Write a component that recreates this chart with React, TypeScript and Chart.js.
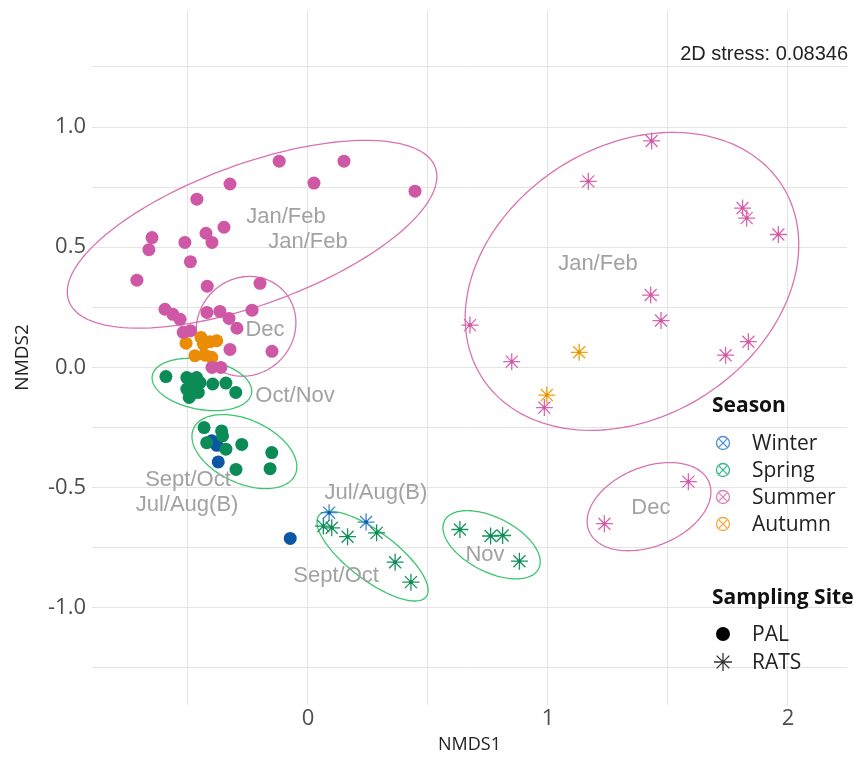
import React, { useEffect, useRef } from 'react';
import { Chart, registerables } from 'chart.js';

Chart.register(...registerables);

// ---------- data ----------
const palSummerX = [-0.713, -0.663, -0.65, -0.513, -0.49, -0.463, -0.425, -0.4, -0.35, -0.325, -0.12, 0.025, 0.15, 0.446, -0.42, -0.2, -0.596, -0.563, -0.533, -0.421, -0.367, -0.329, -0.296, -0.233, -0.52, -0.49, -0.325, -0.15, -0.4, -0.363];
const palSummerY = [0.363, 0.49, 0.54, 0.52, 0.44, 0.7, 0.558, 0.52, 0.583, 0.763, 0.858, 0.767, 0.858, 0.733, 0.338, 0.35, 0.242, 0.221, 0.2, 0.229, 0.233, 0.204, 0.163, 0.238, 0.146, 0.153, 0.075, 0.067, 0.0, 0.0];
const palAutumnX = [-0.446, -0.408, -0.38, -0.508, -0.471, -0.429, -0.401, -0.436];
const palAutumnY = [0.125, 0.107, 0.111, 0.101, 0.049, 0.051, 0.042, 0.097];
const palSpringX = [-0.592, -0.505, -0.485, -0.464, -0.45, -0.505, -0.485, -0.457, -0.478, -0.397, -0.342, -0.301, -0.495, -0.433, -0.422, -0.36, -0.356, -0.342, -0.276, -0.151, -0.158, -0.3];
const palSpringY = [-0.038, -0.042, -0.049, -0.042, -0.063, -0.09, -0.111, -0.104, -0.076, -0.069, -0.065, -0.104, -0.125, -0.25, -0.313, -0.264, -0.285, -0.34, -0.32, -0.354, -0.421, -0.424];
const palWinterX = [-0.074, -0.374, -0.401, -0.38];
const palWinterY = [-0.711, -0.393, -0.305, -0.324];

const ratsSummerX = [1.432, 1.168, 1.811, 1.828, 1.96, 1.428, 1.471, 0.675, 0.849, 1.74, 1.835, 0.985, 1.585, 1.235];
const ratsSummerY = [0.942, 0.774, 0.663, 0.621, 0.553, 0.301, 0.195, 0.176, 0.024, 0.051, 0.107, -0.167, -0.475, -0.65];
const ratsAutumnX = [1.13, 0.995];
const ratsAutumnY = [0.063, -0.115];
const ratsSpringX = [0.064, 0.099, 0.165, 0.286, 0.363, 0.429, 0.633, 0.761, 0.811, 0.881];
const ratsSpringY = [-0.66, -0.667, -0.704, -0.688, -0.81, -0.893, -0.674, -0.701, -0.699, -0.806];
const ratsWinterX = [0.088, 0.242];
const ratsWinterY = [-0.604, -0.643];

// ellipses (data units)
const ellipseCx = [-0.233, -0.258, -0.442, -0.265, 0.269, 0.765, 1.35, 1.421];
const ellipseCy = [0.554, 0.171, -0.071, -0.35, -0.785, -0.7375, 0.358, -0.579];
const ellipseA = [0.8125, 0.215, 0.21, 0.2325, 0.28, 0.22, 0.742, 0.27];
const ellipseB = [0.292, 0.2, 0.104, 0.132, 0.1, 0.113, 0.5625, 0.165];
const ellipseAngle = [20, 45, -10, -24.5, -37, -27, 32.5, 22];
const ellipseSeason = ['Summer', 'Summer', 'Spring', 'Spring', 'Spring', 'Spring', 'Summer', 'Summer'];

// cluster labels
const labelText = ['Jan/Feb', 'Jan/Feb', 'Dec', 'Oct/Nov', 'Sept/Oct', 'Jul/Aug(B)', 'Jul/Aug(B)', 'Sept/Oct', 'Nov', 'Jan/Feb', 'Dec'];
const labelX = [-0.092, 0.0, -0.179, -0.054, -0.5, -0.504, 0.283, 0.117, 0.7375, 1.208, 1.429];
const labelY = [0.625, 0.521, 0.154, -0.117, -0.467, -0.571, -0.521, -0.867, -0.779, 0.429, -0.583];

const seasons = ['Winter', 'Spring', 'Summer', 'Autumn'];
const sites = ['PAL', 'RATS'];
const stressText = '2D stress: 0.08346';

// ---------- styles ----------
const palColors: Record<string, string> = { Winter: '#0b57a6', Spring: '#0b8b55', Summer: '#cf58a6', Autumn: '#eb8c06' };
const ratsColors: Record<string, string> = { Winter: '#3f86d0', Spring: '#16925e', Summer: '#d865ad', Autumn: '#f0a20a' };
const legendColors: Record<string, string> = { Winter: '#4a90d6', Spring: '#35b889', Summer: '#e07cbc', Autumn: '#f5a83a' };
const ellipseColors: Record<string, string> = { Spring: '#3cc46e', Summer: '#d873b2' };
const gridColor = '#e4e4e4';

const pts = (xs: number[], ys: number[]) => xs.map((x, i) => ({ x, y: ys[i] }));

const overlayPlugin = {
  id: 'overlay',
  beforeDatasetsDraw(chart: any) {
    const { ctx, scales } = chart;
    const sx = scales.x, sy = scales.y;
    ctx.save();
    for (let k = 0; k < ellipseCx.length; k++) {
      const phi = (ellipseAngle[k] * Math.PI) / 180;
      ctx.beginPath();
      const n = 160;
      for (let t = 0; t <= n; t++) {
        const th = (t / n) * Math.PI * 2;
        const ex = ellipseA[k] * Math.cos(th);
        const ey = ellipseB[k] * Math.sin(th);
        const dx = ellipseCx[k] + ex * Math.cos(phi) - ey * Math.sin(phi);
        const dy = ellipseCy[k] + ex * Math.sin(phi) + ey * Math.cos(phi);
        const px = sx.getPixelForValue(dx);
        const py = sy.getPixelForValue(dy);
        if (t === 0) ctx.moveTo(px, py);
        else ctx.lineTo(px, py);
      }
      ctx.closePath();
      ctx.strokeStyle = ellipseColors[ellipseSeason[k]];
      ctx.lineWidth = 1.3;
      ctx.stroke();
    }
    ctx.restore();
  },
  afterDatasetsDraw(chart: any) {
    const { ctx, scales } = chart;
    const sx = scales.x, sy = scales.y;
    ctx.save();
    ctx.font = '22px "Liberation Sans", Arial, sans-serif';
    ctx.fillStyle = '#a2a2a2';
    ctx.textAlign = 'center';
    ctx.textBaseline = 'middle';
    for (let k = 0; k < labelText.length; k++) {
      ctx.fillText(labelText[k], sx.getPixelForValue(labelX[k]), sy.getPixelForValue(labelY[k]));
    }

    // stress text
    ctx.font = '20px "Liberation Sans", Arial, sans-serif';
    ctx.fillStyle = '#222';
    ctx.textAlign = 'right';
    ctx.fillText(stressText, 848, 54);

    // legend
    const lx = 712;
    ctx.textAlign = 'left';
    ctx.fillStyle = '#111';
    ctx.font = 'bold 21px "Open Sans", sans-serif';
    ctx.fillText('Season', lx, 406);
    const rows = [443, 470, 497, 524];
    ctx.font = '21px "Open Sans", sans-serif';
    seasons.forEach((s, i) => {
      const cx = 723, cy = rows[i], r = 6.5;
      ctx.strokeStyle = legendColors[s];
      ctx.lineWidth = 1.3;
      ctx.beginPath();
      ctx.arc(cx, cy, r, 0, Math.PI * 2);
      ctx.stroke();
      const d = r * 0.707;
      ctx.beginPath();
      ctx.moveTo(cx - d, cy - d); ctx.lineTo(cx + d, cy + d);
      ctx.moveTo(cx + d, cy - d); ctx.lineTo(cx - d, cy + d);
      ctx.stroke();
      ctx.fillStyle = '#222';
      ctx.fillText(s, 752, cy + 1);
    });
    ctx.fillStyle = '#111';
    ctx.font = 'bold 21px "Open Sans", sans-serif';
    ctx.fillText('Sampling Site', lx, 598);
    ctx.font = '21px "Open Sans", sans-serif';
    // PAL
    ctx.fillStyle = '#000';
    ctx.beginPath();
    ctx.arc(723, 634, 7, 0, Math.PI * 2);
    ctx.fill();
    ctx.fillStyle = '#222';
    ctx.fillText(sites[0], 752, 635);
    // RATS star
    ctx.strokeStyle = '#333';
    ctx.lineWidth = 1.3;
    const sc = 723, sr = 662, rr = 9;
    ctx.beginPath();
    for (let a = 0; a < 4; a++) {
      const ang = (a * Math.PI) / 4;
      ctx.moveTo(sc - rr * Math.cos(ang), sr - rr * Math.sin(ang));
      ctx.lineTo(sc + rr * Math.cos(ang), sr + rr * Math.sin(ang));
    }
    ctx.stroke();
    ctx.fillText(sites[1], 752, 663);
    ctx.restore();
  },
};

const palDs = (s: string, xs: number[], ys: number[]) => ({
  label: 'PAL ' + s,
  data: pts(xs, ys),
  pointStyle: 'circle',
  pointRadius: 6.5,
  pointBackgroundColor: palColors[s],
  pointBorderWidth: 0,
  pointBorderColor: palColors[s],
});
const ratsDs = (s: string, xs: number[], ys: number[]) => ({
  label: 'RATS ' + s,
  data: pts(xs, ys),
  pointStyle: 'star',
  pointRadius: 8.5,
  pointBackgroundColor: ratsColors[s],
  pointBorderWidth: 1.3,
  pointBorderColor: ratsColors[s],
});
const dotDs = (s: string, xs: number[], ys: number[]) => ({
  label: 'RATS dot ' + s,
  data: pts(xs, ys),
  pointStyle: 'circle',
  pointRadius: 1.8,
  pointBackgroundColor: palColors[s],
  pointBorderWidth: 0,
});

export default function App() {
  const ref = useRef<HTMLCanvasElement>(null);
  useEffect(() => {
    if (!ref.current) return;
    const chart = new Chart(ref.current, {
      type: 'scatter',
      data: {
        datasets: [
          palDs('Spring', palSpringX, palSpringY),
          palDs('Summer', palSummerX, palSummerY),
          palDs('Autumn', palAutumnX, palAutumnY),
          palDs('Winter', palWinterX, palWinterY),
          dotDs('Summer', ratsSummerX, ratsSummerY),
          dotDs('Spring', ratsSpringX, ratsSpringY),
          dotDs('Autumn', ratsAutumnX, ratsAutumnY),
          dotDs('Winter', ratsWinterX, ratsWinterY),
          ratsDs('Summer', ratsSummerX, ratsSummerY),
          ratsDs('Spring', ratsSpringX, ratsSpringY),
          ratsDs('Autumn', ratsAutumnX, ratsAutumnY),
          ratsDs('Winter', ratsWinterX, ratsWinterY),
        ] as any,
      },
      options: {
        animation: false,
        responsive: true,
        maintainAspectRatio: false,
        layout: { padding: { left: 7, right: 17, top: 0, bottom: 4 } },
        plugins: { legend: { display: false }, tooltip: { enabled: false } },
        scales: {
          x: {
            type: 'linear',
            min: -0.9,
            max: 2.246,
            afterFit: (s: any) => { s.height = 55; s.paddingLeft = 0; s.paddingRight = 0; },
            border: { display: false },
            grid: { color: gridColor, lineWidth: 1, drawTicks: false },
            ticks: {
              stepSize: 0.5,
              includeBounds: false,
              padding: 1,
              autoSkip: false,
              maxRotation: 0,
              color: '#4d4d4d',
              font: { family: '"Open Sans", sans-serif', size: 22 },
              callback: (v: any) => (Math.abs(v - Math.round(v)) < 1e-9 ? String(Math.round(v)) : ''),
            },
            title: { display: true, text: 'NMDS1', color: '#222', font: { family: '"Open Sans", sans-serif', size: 18 }, padding: 4 },
          },
          y: {
            type: 'linear',
            min: -1.404,
            max: 1.4875,
            afterFit: (s: any) => { s.width = 85; s.paddingTop = 0; s.paddingBottom = 0; },
            border: { display: false },
            grid: { color: gridColor, lineWidth: 1, drawTicks: false },
            ticks: {
              stepSize: 0.25,
              includeBounds: false,
              padding: 6,
              autoSkip: false,
              color: '#4d4d4d',
              font: { family: '"Open Sans", sans-serif', size: 22 },
              callback: (v: any) => (Math.abs(v * 2 - Math.round(v * 2)) < 1e-9 ? Number(v).toFixed(1) : ''),
            },
            title: { display: true, text: 'NMDS2', color: '#222', font: { family: '"Open Sans", sans-serif', size: 19 }, padding: 4 },
          },
        },
      },
      plugins: [overlayPlugin],
    });
    return () => chart.destroy();
  }, []);
  return (
    <div style={{ position: 'fixed', left: 0, top: 0, width: 864, height: 764, background: '#fff' }}>
      <canvas ref={ref} />
    </div>
  );
}
